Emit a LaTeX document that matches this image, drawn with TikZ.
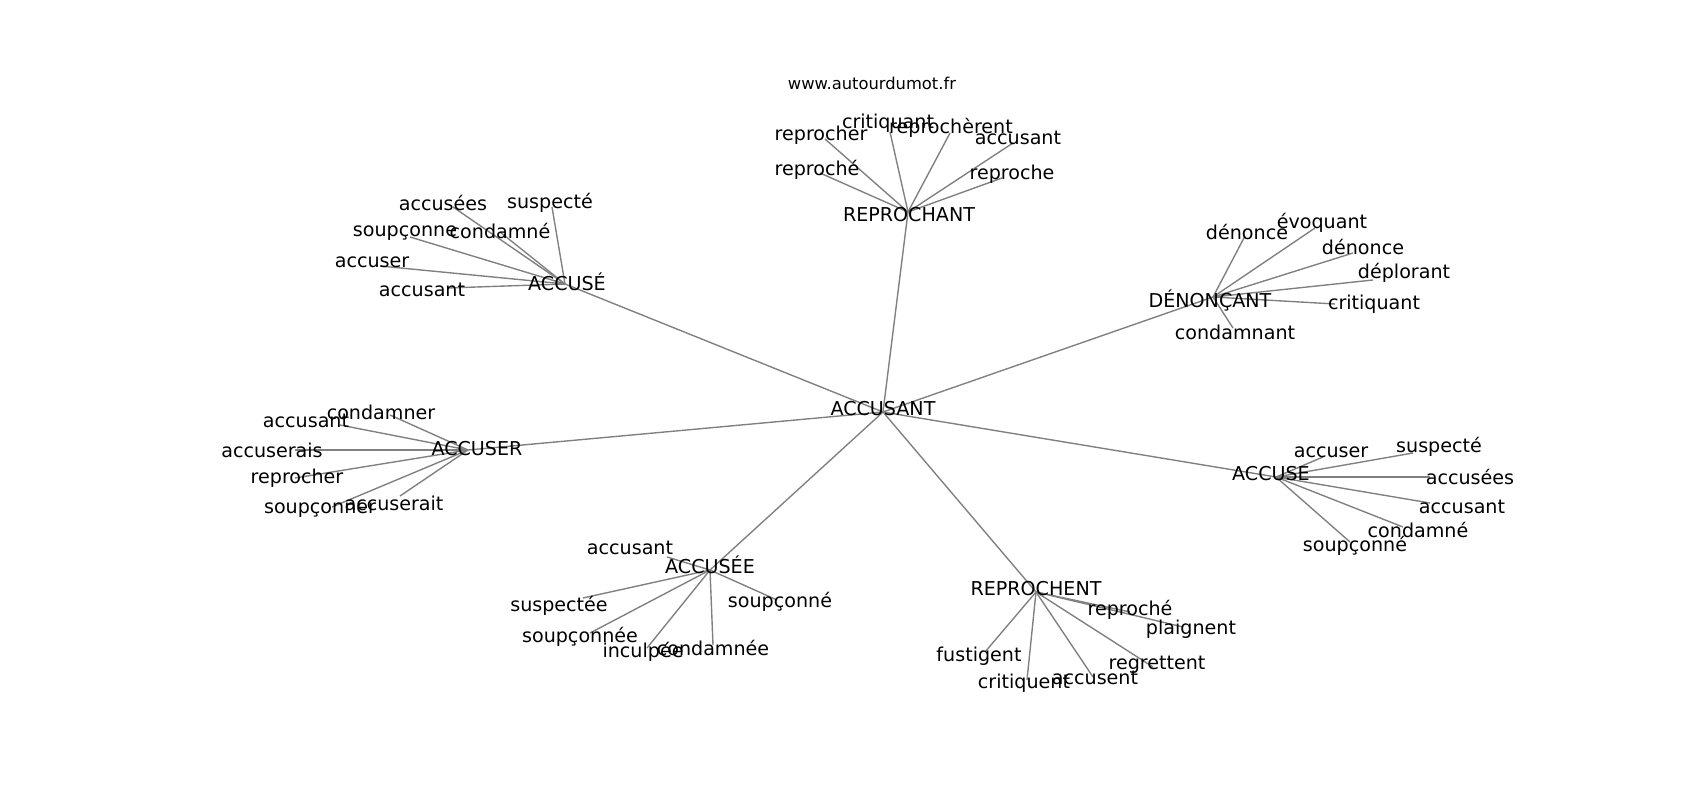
\documentclass[tikz,border=0pt]{standalone}
\usepackage{fontspec}
\setmainfont{DejaVu Sans}
\usepackage{tikz}
\usetikzlibrary{positioning}

\begin{document}
\begin{tikzpicture}[
    x=0.01in, y=-0.01in,
    word/.style={inner sep=0pt, font=\fontsize{13.8}{16}\selectfont},
    site/.style={inner sep=0pt, font=\fontsize{11.8}{14}\selectfont},
    edge/.style={draw=gray, line width=1pt}
]
    \useasboundingbox (0,0) rectangle (1700,800);

    % title
    \node[site] (site) at (872,83) {www.autourdumot.fr};

    % centre
    \coordinate (c) at (883,412);
    \coordinate (accE) at (565,284);
    \coordinate (repr) at (908,212);
    \coordinate (deno) at (1213,297);
    \coordinate (accr) at (468,450);
    \coordinate (accu) at (1276,477);
    \coordinate (accee) at (710,570);
    \coordinate (rept) at (1036,592);

    % ACCUSÉ
    \coordinate (accE1) at (453,207);
    \coordinate (accE2) at (552,207);
    \coordinate (accE3) at (500,232);
    \coordinate (accE4) at (410,237);
    \coordinate (accE5) at (380,266);
    \coordinate (accE6) at (447,288);

    % REPROCHANT
    \coordinate (repr1) at (825,139);
    \coordinate (repr2) at (890,132);
    \coordinate (repr3) at (950,133);
    \coordinate (repr4) at (1013,143);
    \coordinate (repr5) at (820,173);
    \coordinate (repr6) at (1002,178);

    % DÉNONÇANT
    \coordinate (deno1) at (1245,236);
    \coordinate (deno2) at (1315,228);
    \coordinate (deno3) at (1353,253);
    \coordinate (deno4) at (1373,280);
    \coordinate (deno5) at (1335,304);
    \coordinate (deno6) at (1233,328);

    % ACCUSER
    \coordinate (accr1) at (390,415);
    \coordinate (accr2) at (340,425);
    \coordinate (accr3) at (295,450);
    \coordinate (accr4) at (295,478);
    \coordinate (accr5) at (332,507);
    \coordinate (accr6) at (400,496);

    % ACCUSE
    \coordinate (accu1) at (1323,457);
    \coordinate (accu2) at (1413,453);
    \coordinate (accu3) at (1430,477);
    \coordinate (accu4) at (1430,503);
    \coordinate (accu5) at (1403,527);
    \coordinate (accu6) at (1350,542);

    % ACCUSÉE
    \coordinate (accee1) at (667,557);
    \coordinate (accee2) at (583,598);
    \coordinate (accee3) at (777,600);
    \coordinate (accee4) at (590,633);
    \coordinate (accee5) at (647,648);
    \coordinate (accee6) at (713,645);

    % REPROCHENT
    \coordinate (rept1) at (1130,612);
    \coordinate (rept2) at (1183,627);
    \coordinate (rept3) at (985,652);
    \coordinate (rept4) at (1027,680);
    \coordinate (rept5) at (1093,677);
    \coordinate (rept6) at (1153,667);

    % edges
    \foreach \h in {accE,repr,deno,accr,accu,accee,rept}
        \draw[edge] (c) -- (\h);
    \foreach \h in {accE,repr,deno,accr,accu,accee,rept}
        \foreach \i in {1,...,6}
            \draw[edge] (\h) -- (\h\i);

    % labels
    \node[word] (c-l) at (883,409) {ACCUSANT};
    \node[word] (accE-l) at (567,282) {ACCUSÉ};
    \node[word] (repr-l) at (909,215) {REPROCHANT};
    \node[word] (deno-l) at (1210,300) {DÉNONÇANT};
    \node[word] (accr-l) at (477,449) {ACCUSER};
    \node[word] (accu-l) at (1271,474) {ACCUSE};
    \node[word] (accee-l) at (710,565) {ACCUSÉE};
    \node[word] (rept-l) at (1036,589) {REPROCHENT};

    \node[word] (accE1-l) at (443,203) {accusées};
    \node[word] (accE2-l) at (550,203) {suspecté};
    \node[word] (accE3-l) at (500,231) {condamné};
    \node[word] (accE4-l) at (405,233) {soupçonne};
    \node[word] (accE5-l) at (372,262) {accuser};
    \node[word] (accE6-l) at (422,290) {accusant};

    \node[word] (repr1-l) at (821,135) {reprocher};
    \node[word] (repr2-l) at (888,123) {critiquant};
    \node[word] (repr3-l) at (951,128) {reprochèrent};
    \node[word] (repr4-l) at (1018,138) {accusant};
    \node[word] (repr5-l) at (817,170) {reproché};
    \node[word] (repr6-l) at (1012,174) {reproche};

    \node[word] (deno1-l) at (1247,232) {dénonce};
    \node[word] (deno2-l) at (1322,223) {évoquant};
    \node[word] (deno3-l) at (1363,247) {dénonce};
    \node[word] (deno4-l) at (1404,273) {déplorant};
    \node[word] (deno5-l) at (1374,304) {critiquant};
    \node[word] (deno6-l) at (1235,332) {condamnant};

    \node[word] (accr1-l) at (381,412) {condamner};
    \node[word] (accr2-l) at (306,421) {accusant};
    \node[word] (accr3-l) at (272,450) {accuserais};
    \node[word] (accr4-l) at (297,478) {reprocher};
    \node[word] (accr5-l) at (320,510) {soupçonner};
    \node[word] (accr6-l) at (394,503) {accuserait};

    \node[word] (accu1-l) at (1331,452) {accuser};
    \node[word] (accu2-l) at (1439,447) {suspecté};
    \node[word] (accu3-l) at (1470,477) {accusées};
    \node[word] (accu4-l) at (1462,507) {accusant};
    \node[word] (accu5-l) at (1418,530) {condamné};
    \node[word] (accu6-l) at (1355,546) {soupçonné};

    \node[word] (accee1-l) at (630,548) {accusant};
    \node[word] (accee2-l) at (559,606) {suspectée};
    \node[word] (accee3-l) at (780,602) {soupçonné};
    \node[word] (accee4-l) at (580,637) {soupçonnée};
    \node[word] (accee5-l) at (643,652) {inculpée};
    \node[word] (accee6-l) at (713,648) {condamnée};

    \node[word] (rept1-l) at (1130,610) {reproché};
    \node[word] (rept2-l) at (1191,629) {plaignent};
    \node[word] (rept3-l) at (979,656) {fustigent};
    \node[word] (rept4-l) at (1024,683) {critiquent};
    \node[word] (rept5-l) at (1095,678) {accusent};
    \node[word] (rept6-l) at (1157,665) {regrettent};
\end{tikzpicture}
\end{document}
